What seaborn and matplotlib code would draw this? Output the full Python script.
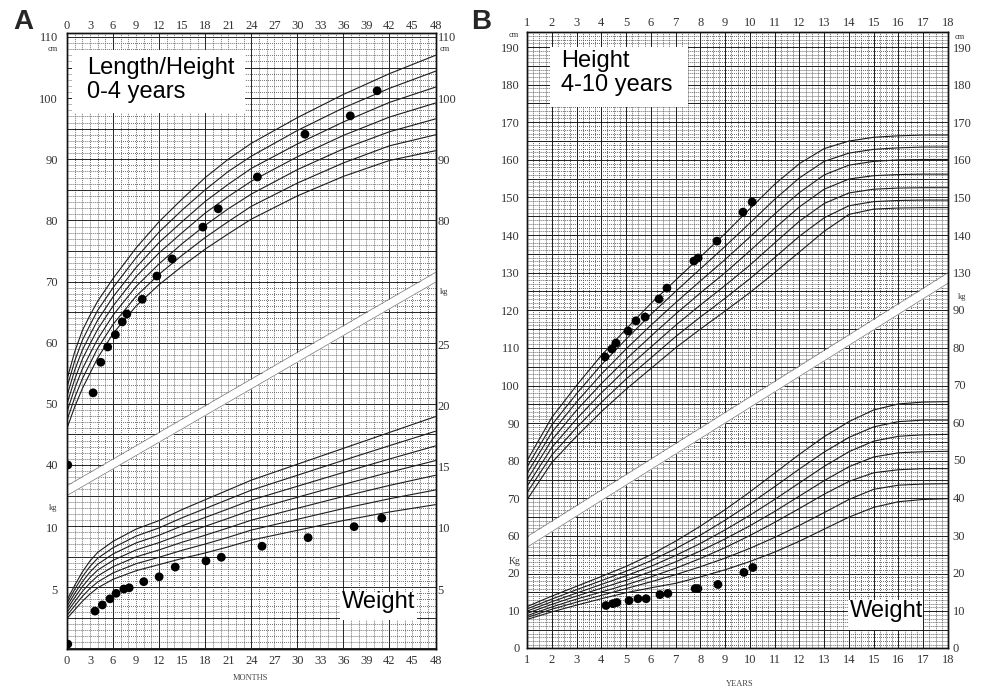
import matplotlib
matplotlib.use("Agg")
import matplotlib.pyplot as plt
from matplotlib.patches import Rectangle
import numpy as np
import pandas as pd
import seaborn as sns

sns.set_style("white")
plt.rcParams["font.family"] = ["Liberation Serif", "DejaVu Serif"]

# ---------------- panel A : 0-4 years (months) ----------------
a_months = [0, 1, 2, 3, 4, 6, 9, 12, 15, 18, 21, 24, 30, 36, 42, 48]
# reference percentile lines, top to bottom
a_height_curves = [
    [54.0, 58.5, 62.0, 64.5, 66.8, 70.5, 75.5, 79.8, 83.5, 87.0, 90.0, 92.6, 96.8, 100.6, 104.0, 107.0],
    [52.7, 57.0, 60.4, 62.9, 65.3, 69.0, 73.9, 78.1, 81.7, 85.0, 88.0, 90.5, 94.7, 98.4, 101.6, 104.4],
    [51.3, 55.5, 58.8, 61.3, 63.7, 67.5, 72.3, 76.4, 79.8, 83.1, 85.9, 88.5, 92.5, 96.1, 99.3, 101.8],
    [50.0, 54.0, 57.3, 59.8, 62.2, 66.0, 70.8, 74.7, 78.0, 81.2, 83.9, 86.4, 90.4, 93.9, 96.9, 99.2],
    [48.7, 52.5, 55.7, 58.2, 60.6, 64.5, 69.2, 72.9, 76.2, 79.2, 81.9, 84.3, 88.3, 91.7, 94.5, 96.6],
    [47.3, 51.0, 54.1, 56.6, 59.1, 63.0, 67.6, 71.2, 74.3, 77.2, 79.8, 82.3, 86.1, 89.4, 92.2, 94.0],
    [46.0, 49.5, 52.5, 55.0, 57.5, 61.5, 66.0, 69.5, 72.5, 75.3, 77.8, 80.2, 84.0, 87.2, 89.8, 91.4],
]
a_weight_curves = [
    [4.10, 5.30, 6.40, 7.30, 8.00, 8.90, 9.90, 10.60, 11.50, 12.30, 13.10, 13.90, 15.20, 16.50, 17.80, 19.10],
    [3.85, 4.97, 6.00, 6.85, 7.52, 8.38, 9.33, 10.00, 10.83, 11.58, 12.33, 13.08, 14.30, 15.52, 16.72, 17.90],
    [3.60, 4.63, 5.60, 6.40, 7.03, 7.87, 8.77, 9.40, 10.17, 10.85, 11.55, 12.27, 13.40, 14.53, 15.63, 16.70],
    [3.35, 4.30, 5.20, 5.95, 6.55, 7.35, 8.20, 8.80, 9.50, 10.13, 10.78, 11.45, 12.50, 13.55, 14.55, 15.50],
    [3.10, 3.97, 4.80, 5.50, 6.07, 6.83, 7.63, 8.20, 8.83, 9.40, 10.00, 10.63, 11.60, 12.57, 13.47, 14.30],
    [2.85, 3.63, 4.40, 5.05, 5.58, 6.32, 7.07, 7.60, 8.17, 8.68, 9.23, 9.82, 10.70, 11.58, 12.38, 13.10],
    [2.60, 3.30, 4.00, 4.60, 5.10, 5.80, 6.50, 7.00, 7.50, 7.95, 8.45, 9.00, 9.80, 10.60, 11.30, 11.90],
]
# patient measurements
a_height_age = [0.1, 3.4, 4.4, 5.3, 6.3, 7.2, 7.8, 9.8, 11.7, 13.7, 17.7, 19.7, 24.8, 31.0, 36.9, 40.4]
a_height = [40.0, 51.8, 56.8, 59.3, 61.3, 63.4, 64.7, 67.1, 70.9, 73.7, 78.9, 81.9, 87.1, 94.1, 97.1, 101.2]
a_weight_age = [0.1, 3.65, 4.6, 5.6, 6.4, 7.4, 8.1, 10.0, 12.0, 14.1, 18.1, 20.1, 25.4, 31.4, 37.4, 41.0]
a_weight = [0.5, 3.2, 3.7, 4.2, 4.65, 5.0, 5.1, 5.6, 6.0, 6.8, 7.3, 7.6, 8.5, 9.2, 10.1, 10.8]

a_xticks = list(range(0, 49, 3))
a_cm_left = [40, 50, 60, 70, 80, 90, 100, 110]
a_cm_right = [80, 90, 100, 110]
a_kg_left = [5, 10]
a_kg_right = [5, 10, 15, 20, 25]

# ---------------- panel B : 1-18 years ----------------
b_years = list(range(1, 19))
b_height_curves = [
    [80.0, 91.5, 100.0, 108.0, 115.0, 121.8, 128.0, 134.2, 140.4, 147.0, 153.5, 159.0, 163.0, 165.0, 166.0, 166.4, 166.6, 166.6],
    [78.3, 89.5, 97.8, 105.5, 112.3, 118.9, 125.0, 131.0, 137.0, 143.2, 149.5, 155.2, 159.6, 161.8, 162.8, 163.2, 163.4, 163.4],
    [76.6, 87.5, 95.6, 103.0, 109.7, 116.0, 122.0, 127.8, 133.5, 139.5, 145.6, 151.3, 156.0, 158.6, 159.6, 160.0, 160.1, 160.1],
    [74.9, 85.5, 93.4, 100.5, 107.0, 113.1, 119.0, 124.6, 130.0, 135.8, 141.8, 147.5, 152.2, 154.9, 155.8, 156.1, 156.2, 156.2],
    [73.2, 83.5, 91.1, 98.0, 104.4, 110.2, 116.0, 121.4, 126.6, 132.0, 137.9, 143.7, 148.4, 151.2, 152.2, 152.5, 152.6, 152.6],
    [71.5, 81.5, 88.8, 95.5, 101.7, 107.3, 113.0, 118.2, 123.2, 128.4, 134.0, 139.7, 144.6, 147.8, 148.9, 149.2, 149.3, 149.3],
    [69.6, 79.5, 86.5, 93.0, 99.0, 104.5, 110.0, 115.0, 119.8, 124.7, 130.0, 135.5, 141.0, 145.5, 146.9, 147.2, 147.3, 147.3],
]
b_weight_curves = [
    [11.0, 13.8, 16.4, 19.0, 21.7, 24.8, 28.4, 32.4, 36.8, 41.5, 46.5, 51.5, 56.2, 60.2, 63.3, 64.9, 65.4, 65.5],
    [10.4, 13.0, 15.5, 17.9, 20.4, 23.2, 26.4, 30.0, 34.0, 38.3, 42.9, 47.6, 52.1, 56.0, 58.8, 60.2, 60.6, 60.6],
    [9.8, 12.3, 14.6, 16.9, 19.2, 21.7, 24.6, 27.8, 31.4, 35.3, 39.5, 43.9, 48.3, 52.2, 55.0, 56.3, 56.7, 56.8],
    [9.2, 11.6, 13.8, 15.9, 18.0, 20.3, 22.9, 25.8, 29.0, 32.5, 36.3, 40.4, 44.5, 48.2, 50.8, 51.9, 52.2, 52.3],
    [8.6, 10.9, 13.0, 14.9, 16.8, 18.9, 21.2, 23.8, 26.7, 29.9, 33.4, 37.1, 40.9, 44.3, 46.6, 47.4, 47.7, 47.7],
    [8.1, 10.3, 12.2, 14.0, 15.8, 17.6, 19.5, 21.6, 23.9, 26.5, 29.4, 32.6, 36.0, 39.5, 42.2, 43.3, 43.6, 43.7],
    [7.6, 9.6, 11.4, 13.1, 14.7, 16.0, 17.2, 18.9, 20.8, 23.0, 25.5, 28.4, 31.6, 34.8, 37.4, 38.9, 39.5, 39.7],
]
b_height_age = [4.15, 4.43, 4.59, 5.08, 5.40, 5.77, 6.33, 6.65, 7.74, 7.91, 8.67, 9.72, 10.09]
b_height = [107.6, 109.7, 111.3, 114.5, 117.2, 118.2, 123.0, 125.9, 133.1, 133.9, 138.4, 146.1, 148.8]
b_weight_age = [4.19, 4.47, 4.63, 5.12, 5.48, 5.81, 6.37, 6.69, 7.79, 7.90, 8.71, 9.76, 10.12]
b_weight = [11.3, 11.8, 12.1, 12.6, 13.1, 13.1, 14.2, 14.5, 15.8, 15.8, 16.9, 20.1, 21.4]

b_xticks = list(range(1, 19))
b_cm_left = list(range(60, 191, 10))
b_cm_right = list(range(130, 191, 10))
b_kg_left = [0, 10, 20]
b_kg_right = list(range(0, 91, 10))

# white diagonal strip separating height and weight sheets
a_band_x, a_band_lo, a_band_hi = [0, 48], [35.0, 69.9], [36.6, 71.5]
b_band_x, b_band_lo, b_band_hi = [1, 18], [57.0, 127.2], [59.8, 130.0]

W, H = 983, 688
TICK = "#333333"


def rect(x0, y0, x1, y1):
    return [x0 / W, 1 - y1 / H, (x1 - x0) / W, (y1 - y0) / H]


def long_df(x, curves):
    rows = [(i, xv, yv) for i, c in enumerate(curves) for xv, yv in zip(x, c)]
    return pd.DataFrame(rows, columns=["curve", "x", "y"])


def draw_grid(ax, xlim, ylim, xmin_step, xmaj_step, ymaj_step, c_minor, c_major):
    dot = (0, (1, 1.2))
    xs = np.arange(xlim[0], xlim[1] + 1e-6, xmin_step)
    ys = np.arange(np.ceil(ylim[0]), ylim[1], 1.0)
    ax.vlines(xs, *ylim, colors=c_minor, lw=0.65, linestyles=[dot], zorder=0.5)
    ax.hlines(ys, *xlim, colors=c_minor, lw=0.65, linestyles=[dot], zorder=0.5)
    xm = np.arange(xlim[0], xlim[1] + 1e-6, xmaj_step)
    ym = ys[ys % ymaj_step == 0]
    ax.vlines(xm, *ylim, colors=c_major, lw=0.7, zorder=0.6)
    ax.hlines(ym, *xlim, colors=c_major, lw=0.7, zorder=0.6)


def draw_band(ax, x, lo, hi):
    ax.fill_between(x, lo, hi, color="white", lw=0, zorder=1.5)
    ax.plot(x, lo, color="#777777", lw=0.5, zorder=1.6)
    ax.plot(x, hi, color="#777777", lw=0.5, zorder=1.6)


def draw_curves(ax, x, curves):
    sns.lineplot(data=long_df(x, curves), x="x", y="y", units="curve",
                 estimator=None, color="#1c1c1c", lw=0.8, ax=ax,
                 legend=False, zorder=2)


def draw_points(ax, x, y):
    sns.scatterplot(x=x, y=y, color="black", s=40, edgecolor="none",
                    ax=ax, zorder=3, legend=False)


def style_axis(ax, lw=1.0):
    for s in ax.spines.values():
        s.set_visible(True)
        s.set_color("#111111")
        s.set_linewidth(lw)
    ax.set_xlabel("")
    ax.set_ylabel("")


def hide_spines(sec):
    for s in sec.spines.values():
        s.set_visible(False)


def panel(box, xlim, cm_lim, kg_lim, xticks, grid_args, band, hx, hc, wx, wc,
          hp, wp, cm_left, cm_right, kg_left, kg_right, pads):
    ax = fig.add_axes(rect(*box))
    ax.set_facecolor("white")
    draw_grid(ax, xlim, cm_lim, *grid_args)
    draw_band(ax, *band)
    draw_curves(ax, hx, hc)
    draw_points(ax, *hp)
    ax.set_xlim(xlim)
    ax.set_ylim(cm_lim)
    ax.set_xticks(xticks)
    ax.set_yticks(cm_left)
    ax.tick_params(axis="x", length=0, labelsize=9, labelcolor=TICK, pad=pads[3])
    ax.tick_params(axis="y", length=0, labelsize=9, labelcolor=TICK, pad=pads[0])
    style_axis(ax)

    top = ax.secondary_xaxis("top")
    top.set_xticks(xticks)
    top.tick_params(length=0, labelsize=9, labelcolor=TICK, pad=pads[2])
    hide_spines(top)

    axw = ax.twinx()
    draw_curves(axw, wx, wc)
    draw_points(axw, *wp)
    axw.set_xlim(xlim)
    axw.set_ylim(kg_lim)
    axw.set_yticks(kg_right)
    axw.tick_params(axis="y", length=0, labelsize=9, labelcolor=TICK, pad=pads[1])
    style_axis(axw)

    sec_l = axw.secondary_yaxis("left")
    sec_l.set_yticks(kg_left)
    sec_l.tick_params(length=0, labelsize=9, labelcolor=TICK, pad=pads[0])
    sec_r = ax.secondary_yaxis("right")
    sec_r.set_yticks(cm_right)
    sec_r.tick_params(length=0, labelsize=9, labelcolor=TICK, pad=pads[1])
    hide_spines(sec_l)
    hide_spines(sec_r)
    return ax, axw


fig = plt.figure(figsize=(W / 100, H / 100), dpi=100)

ax_a, axw_a = panel(
    (67, 33, 435.5, 649), (0, 48), (9.9, 110.65), (0.1, 50.45), a_xticks,
    (1, 6, 5, "#5e5e5e", "#262626"),
    (a_band_x, a_band_lo, a_band_hi),
    a_months, a_height_curves, a_months, a_weight_curves,
    (a_height_age, a_height), (a_weight_age, a_weight),
    a_cm_left, a_cm_right, a_kg_left, a_kg_right, (6.5, 1.5, 1.0, 4))

ax_b, axw_b = panel(
    (527, 32, 948, 648), (1, 18), (30.2, 194.0), (0, 163.8), b_xticks,
    (0.25, 1, 5, "#505050", "#1e1e1e"),
    (b_band_x, b_band_lo, b_band_hi),
    b_years, b_height_curves, b_years, b_weight_curves,
    (b_height_age, b_height), (b_weight_age, b_weight),
    b_cm_left, b_cm_right, b_kg_left, b_kg_right, (5, 3.5, 2.0, 4))

# unit labels
unit = dict(fontsize=6, color=TICK)
fig.text(58 / W, 1 - 49 / H, "cm", ha="right", va="center", **unit)
fig.text(57 / W, 1 - 508 / H, "kg", ha="right", va="center", **unit)
fig.text(440 / W, 1 - 49 / H, "cm", ha="left", va="center", **unit)
fig.text(440 / W, 1 - 292 / H, "kg", ha="left", va="center", **unit)
fig.text(519 / W, 1 - 35 / H, "cm", ha="right", va="center", **unit)
fig.text(520 / W, 1 - 562 / H, "Kg", ha="right", va="center", fontsize=7, color=TICK)
fig.text(955 / W, 1 - 37 / H, "cm", ha="left", va="center", **unit)
fig.text(958 / W, 1 - 297 / H, "kg", ha="left", va="center", **unit)

fig.text(250 / W, 1 - 678 / H, "MONTHS", ha="center", va="center", fontsize=6, color="#444444")
fig.text(740 / W, 1 - 684 / H, "YEARS", ha="center", va="center", fontsize=6, color="#444444")

# white caption boxes
sans = ["Liberation Sans", "DejaVu Sans"]
for x0, y0, x1, y1 in [(72, 50, 245, 113), (550, 47, 688, 107),
                       (340, 592, 417, 620), (848, 600, 923, 630)]:
    fig.add_artist(Rectangle((x0 / W, 1 - y1 / H), (x1 - x0) / W, (y1 - y0) / H,
                             transform=fig.transFigure, facecolor="white",
                             edgecolor="none", zorder=5))
cap = dict(fontsize=17, family=sans, color="black", ha="left", va="top",
           linespacing=1.1, zorder=6)
fig.text(87 / W, 1 - 57 / H, "Length/Height\n0-4 years", **cap)
fig.text(561 / W, 1 - 50 / H, "Height\n4-10 years", **cap)
fig.text(342 / W, 1 - 591 / H, "Weight", **cap)
fig.text(850 / W, 1 - 600 / H, "Weight", **cap)

fig.text(23 / W, 1 - 22 / H, "A", fontsize=20, fontweight="bold", family=sans,
         ha="center", va="center")
fig.text(481 / W, 1 - 22 / H, "B", fontsize=20, fontweight="bold", family=sans,
         ha="center", va="center")

fig.savefig("out.png", dpi=100, facecolor="white")
